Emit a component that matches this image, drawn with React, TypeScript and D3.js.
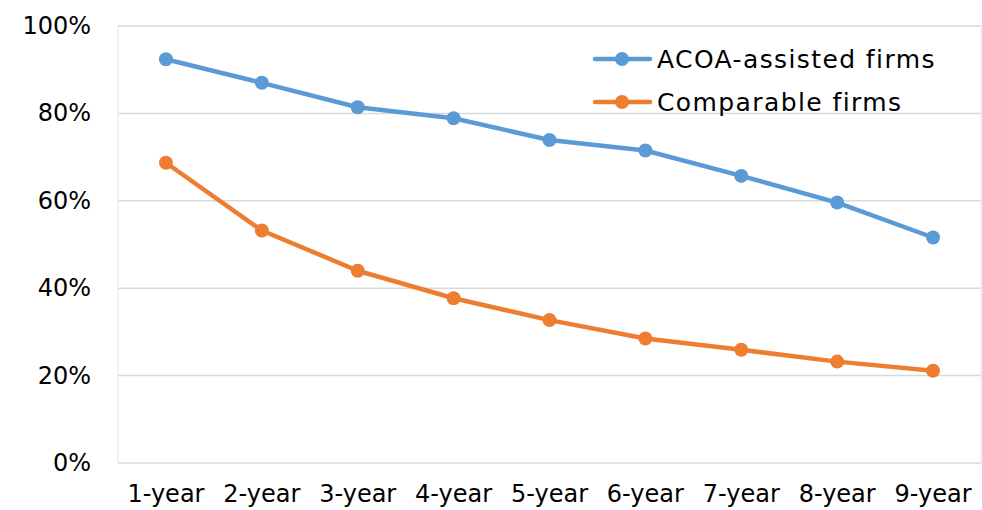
import React from "react";
import * as d3 from "d3";

const categories = ["1-year", "2-year", "3-year", "4-year", "5-year", "6-year", "7-year", "8-year", "9-year"];
const acoaValues = [92.4, 87.0, 81.4, 78.9, 73.9, 71.5, 65.7, 59.6, 51.6];
const comparableValues = [68.7, 53.2, 44.0, 37.7, 32.7, 28.5, 25.9, 23.2, 21.1];
const yTicks = [0, 20, 40, 60, 80, 100];

const series = [
  { name: "ACOA-assisted firms", values: acoaValues, color: "#5B9BD5" },
  { name: "Comparable firms", values: comparableValues, color: "#ED7D31" },
];

const width = 982;
const height = 510;
const font = "'DejaVu Sans', sans-serif";

const App = () => {
  const x = d3.scaleBand<string>().domain(categories).range([118, 981]);
  const y = d3.scaleLinear().domain([0, 100]).range([463, 26]);
  const cx = (c: string) => (x(c) || 0) + x.bandwidth() / 2;

  const line = d3
    .line<number>()
    .x((_, i) => cx(categories[i]))
    .y((d) => y(d));

  return (
    <svg
      width={width}
      height={height}
      style={{ position: "absolute", left: 0, top: 0, background: "#fff" }}
    >
      {yTicks.map((t) => (
        <g key={t}>
          <line x1={118} x2={981} y1={y(t)} y2={y(t)} stroke="#d9d9d9" strokeWidth={1.5} />
          <text
            x={91}
            y={y(t)}
            textAnchor="end"
            dominantBaseline="central"
            fontFamily={font}
            fontSize={24}
            fill="#000"
          >
            {t}%
          </text>
        </g>
      ))}
      <line x1={118} x2={118} y1={y(100)} y2={y(0)} stroke="#e6e6e6" strokeWidth={1} />
      <line x1={981} x2={981} y1={y(100)} y2={y(0)} stroke="#e6e6e6" strokeWidth={1} />

      {categories.map((c) => (
        <text
          key={c}
          x={cx(c)}
          y={502}
          textAnchor="middle"
          fontFamily={font}
          fontSize={24}
          fill="#000"
        >
          {c}
        </text>
      ))}

      {series.map((s) => (
        <g key={s.name}>
          <path d={line(s.values) || ""} fill="none" stroke={s.color} strokeWidth={4.5} strokeLinejoin="round" />
          {s.values.map((v, i) => (
            <circle key={i} cx={cx(categories[i])} cy={y(v)} r={7} fill={s.color} />
          ))}
        </g>
      ))}

      {series.map((s, i) => {
        const ly = 59 + i * 43;
        return (
          <g key={s.name}>
            <line x1={595} x2={650} y1={ly} y2={ly} stroke={s.color} strokeWidth={4.5} strokeLinecap="round" />
            <circle cx={622} cy={ly} r={7} fill={s.color} />
            <text
              x={657}
              y={ly}
              dominantBaseline="central"
              fontFamily={font}
              fontSize={25}
              letterSpacing={1.4}
              fill="#000"
            >
              {s.name}
            </text>
          </g>
        );
      })}
    </svg>
  );
};

export default App;
